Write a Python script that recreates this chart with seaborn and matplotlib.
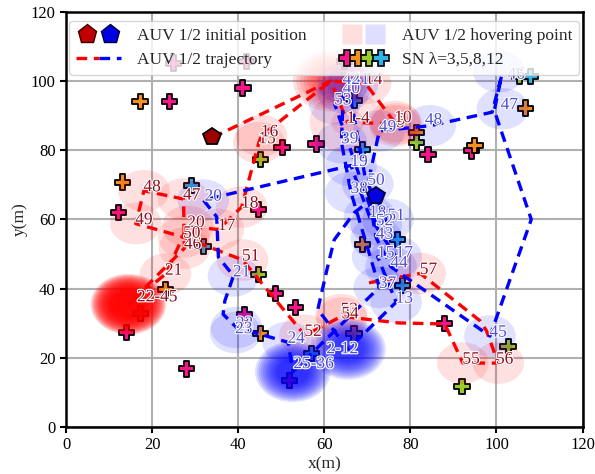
import matplotlib
matplotlib.use("Agg")
import matplotlib.pyplot as plt
import matplotlib.patheffects as pe
from matplotlib.patches import Circle
from matplotlib.lines import Line2D
from matplotlib.legend_handler import HandlerTuple
import pandas as pd
import seaborn as sns

# sensor nodes (m), one list pair per priority level lambda
sn3_x = [24.9, 41.9, 41.1, 24.0, 12.1, 14.0, 28.0, 44.8, 50.2, 58.1, 84.1, 94.2, 48.7, 53.3, 88.0, 52.0, 41.5]
sn3_y = [105.2, 105.7, 98.0, 94.1, 61.9, 27.4, 16.8, 62.9, 80.8, 81.8, 78.8, 79.8, 38.5, 34.6, 30.0, 13.5, 32.4]
sn5_x = [17.2, 81.5, 95.0, 106.8, 13.1, 23.1, 17.3, 68.9, 66.9, 45.1]
sn5_y = [94.0, 85.2, 81.3, 92.2, 70.8, 39.8, 32.8, 52.8, 27.0, 27.0]
sn8_x = [45.1, 81.5, 44.8, 102.7, 92.0, 105.4]
sn8_y = [77.4, 82.2, 44.2, 23.3, 11.7, 101.3]
sn12_x = [64.7, 67.1, 68.9, 108.0, 29.1, 32.0, 77.1, 78.1, 57.1]
sn12_y = [105.7, 94.4, 80.3, 101.3, 69.9, 52.2, 54.1, 41.0, 21.2]

# initial positions
auv1_start = (34.0, 83.7)
auv2_start = (72.0, 66.8)

# AUV 1 hovering points: centre, number of stops, label and where the label sits
auv1_hx = [61.5, 65.4, 76.5, 76.8, 76.4, 69.6, 44.8, 45.4, 35.4, 40.8, 28.3, 23.1, 14.5,
           27.5, 27.3, 18.1, 16.2, 27.3, 41.0, 55.5, 63.9, 64.1, 92.2, 100.4, 82.3]
auv1_hy = [100.0, 88.1, 87.0, 87.6, 88.3, 99.3, 82.2, 84.2, 57.1, 63.6, 58.0, 44.2, 35.5,
           51.7, 65.9, 68.3, 58.8, 54.9, 48.3, 26.5, 32.5, 31.5, 18.5, 18.5, 44.4]
auv1_hn = [7, 2, 1, 1, 1, 1, 1, 1, 1, 1, 1, 1, 24, 1, 1, 1, 1, 1, 1, 1, 1, 1, 1, 1, 1]
auv1_lab = ["", "1-4", "8", "9", "10", "14", "15", "16", "17", "18", "20", "21", "22-45",
            "46", "47", "48", "49", "50", "51", "52", "53", "54", "55", "56", "57"]
auv1_lx = [61.5, 67.9, 77.6, 77.9, 78.3, 71.5, 46.7, 47.3, 37.3, 42.7, 30.2, 25.0, 21.2,
           29.4, 29.2, 20.0, 18.1, 29.2, 42.9, 57.4, 65.8, 66.0, 94.1, 101.9, 84.2]
auv1_ly = [100.0, 89.1, 87.8, 88.6, 89.3, 100.3, 83.2, 85.2, 58.1, 64.6, 59.0, 45.2, 37.5,
           52.7, 66.9, 69.3, 59.8, 55.9, 49.3, 27.5, 33.8, 32.6, 19.5, 19.5, 45.4]

# AUV 2 hovering points
auv2_hx = [65.5, 76.7, 72.4, 76.7, 70.5, 66.2, 31.9, 38.9, 39.6, 39.4, 51.6, 52.7, 72.8, 66.2,
           64.0, 64.4, 66.6, 64.4, 72.1, 75.5, 98.5, 100.6, 101.4, 84.6, 72.8, 70.1, 74.8, 72.1, 62.4]
auv2_hy = [22.5, 36.1, 49.2, 49.2, 60.9, 75.6, 65.6, 43.7, 28.8, 27.3, 24.5, 16.0, 40.4, 67.8,
           82.2, 96.7, 99.3, 99.3, 54.6, 46.3, 26.3, 102.7, 92.0, 87.1, 85.6, 70.2, 60.0, 58.5, 93.4]
auv2_hn = [11, 1, 1, 1, 1, 1, 1, 1, 1, 1, 1, 12, 1, 1, 1, 1, 1, 1, 1, 1, 1, 1, 1, 1, 1, 1, 1, 1, 1]
auv2_lab = ["2-12", "13", "15", "17", "18", "19", "20", "21", "22", "23", "24", "25-36", "37", "38",
            "39", "40", "41", "42", "43", "44", "45", "46", "47", "48", "49", "50", "51", "52", "53"]
auv2_lx = [64.2, 78.6, 74.3, 78.6, 72.4, 68.1, 34.2, 40.8, 41.5, 41.3, 53.5, 57.5, 74.7, 68.1,
           65.9, 66.3, 68.5, 66.3, 74.0, 77.4, 100.4, 104.6, 103.0, 85.4, 74.7, 72.0, 76.7, 74.0, 64.3]
auv2_ly = [22.5, 37.1, 50.2, 50.2, 61.9, 76.6, 66.6, 44.7, 29.8, 28.3, 25.5, 18.2, 41.4, 68.8,
           83.2, 97.7, 100.3, 100.3, 55.6, 47.3, 27.3, 101.8, 93.0, 88.6, 86.6, 71.2, 61.0, 59.5, 94.4]

# trajectories (waypoints in visiting order)
auv1_tx = [34.0, 61.5, 65.4, 76.6, 69.6, 61.5, 45.4, 44.8, 40.8, 35.4, 28.3, 23.1, 14.5, 27.5,
           27.3, 18.1, 16.2, 27.3, 41.0, 55.5, 64.0, 77.2, 88.0, 92.2, 100.4, 97.7, 96.2, 82.3, 70.4]
auv1_ty = [83.7, 100.0, 88.1, 87.6, 99.3, 100.0, 84.2, 82.2, 63.6, 57.1, 58.0, 44.2, 35.5, 51.7,
           65.9, 68.3, 58.8, 54.9, 48.3, 26.5, 32.0, 30.1, 29.8, 18.5, 18.5, 27.8, 30.7, 44.4, 41.7]
auv2_tx = [72.0, 67.0, 62.3, 60.6, 58.5, 65.5, 76.7, 72.4, 76.7, 70.5, 66.2, 31.9, 35.0, 35.4,
           38.9, 36.9, 36.5, 39.6, 51.6, 52.7, 72.8, 66.2, 64.0, 64.4, 65.5, 72.1, 75.5, 98.5,
           108.1, 99.5, 101.2, 99.0, 84.6, 72.8, 70.1, 74.8, 72.1, 62.4]
auv2_ty = [66.8, 62.0, 54.1, 45.4, 34.0, 22.5, 36.1, 49.2, 49.2, 60.9, 75.6, 65.6, 60.8, 49.1,
           43.7, 36.5, 32.6, 28.8, 24.5, 16.0, 40.4, 67.8, 82.2, 96.7, 99.3, 54.6, 46.3, 26.3,
           60.0, 91.5, 101.5, 91.0, 87.1, 85.6, 70.2, 60.0, 58.5, 93.4]

sn_colors = {"3": "#f7148c", "5": "#f7901e", "8": "#9ccc2a", "12": "#2bb5e8"}

sns.set_style("ticks")
plt.rcParams['font.family'] = ['Liberation Serif', 'DejaVu Serif']
plt.rcParams['font.size'] = 12.5

fig = plt.figure(figsize=(5.95, 4.74), dpi=100)
ax = fig.add_axes([0.111, 0.099, 0.868, 0.876])

# sensor nodes
sn = pd.concat([
    pd.DataFrame({"x": sn3_x, "y": sn3_y, "lam": "3"}),
    pd.DataFrame({"x": sn5_x, "y": sn5_y, "lam": "5"}),
    pd.DataFrame({"x": sn8_x, "y": sn8_y, "lam": "8"}),
    pd.DataFrame({"x": sn12_x, "y": sn12_y, "lam": "12"}),
])
sns.scatterplot(data=sn, x="x", y="y", hue="lam", palette=sn_colors, marker="P",
                s=120, edgecolor="black", linewidth=1.3, legend=False, zorder=3, ax=ax)

# hovering zones, several stops at one point stack up
def draw_hover(xs, ys, ns, color):
    for x, y, n in zip(xs, ys, ns):
        for k in range(n):
            r = 6.0 if n == 1 else 8.8 - 5.0 * k / (n - 1)
            ax.add_patch(Circle((x, y), r, facecolor=color, edgecolor="none",
                                alpha=0.12, zorder=4))

draw_hover(auv1_hx, auv1_hy, auv1_hn, "red")
draw_hover(auv2_hx, auv2_hy, auv2_hn, "blue")

# trajectories
for tx, ty, c in [(auv1_tx, auv1_ty, "red"), (auv2_tx, auv2_ty, "blue")]:
    sns.lineplot(x=tx, y=ty, sort=False, estimator=None, color=c, lw=2.4, zorder=5, ax=ax)
    ax.lines[-1].set_dashes((3.2, 2.0))

# hover labels
halo = [pe.withStroke(linewidth=1.6, foreground="white")]
for lab, lx, ly in zip(auv1_lab, auv1_lx, auv1_ly):
    ax.text(lx, ly, lab, color="#8b1020", ha="center", va="center", fontsize=12.5,
            path_effects=halo, zorder=6)
for lab, lx, ly in zip(auv2_lab, auv2_lx, auv2_ly):
    ax.text(lx, ly, lab, color="#4f4fcf", ha="center", va="center", fontsize=12.5,
            path_effects=halo, zorder=6)

# initial positions
ax.plot(*auv1_start, marker="p", ms=13, mfc="#a00000", mec="black", mew=1.3, ls="", zorder=7)
ax.plot(*auv2_start, marker="p", ms=13, mfc="#0000e0", mec="#000040", mew=1.3, ls="", zorder=7)

ax.set_xlim(0, 120)
ax.set_ylim(0, 120)
ax.set_xticks(range(0, 121, 20))
ax.set_yticks(range(0, 121, 20))
ax.grid(True, color="#b0b0b0", lw=1.5)
ax.set_axisbelow(True)
for s in ax.spines.values():
    s.set_linewidth(1.8)
    s.set_color("black")
ax.tick_params(direction="out", length=4, width=1.5, labelsize=12, colors="black")
ax.set_xlabel("x(m)", fontsize=12.5, labelpad=2)
ax.set_ylabel("y(m)", fontsize=12.5, labelpad=2)

# legend
h_init = (Line2D([], [], marker="p", ms=14, mfc="#c00000", mec="#400000", ls=""),
          Line2D([], [], marker="p", ms=14, mfc="#0000e0", mec="#000040", ls=""))
h_traj = (Line2D([], [], color="red", lw=2.4, dashes=(3.2, 2.0)),
          Line2D([], [], color="blue", lw=2.4, dashes=(3.2, 2.0)))
h_hov = (Line2D([], [], marker="s", ms=14, mfc="#ffdede", mec="none", ls=""),
         Line2D([], [], marker="s", ms=14, mfc="#dedeff", mec="none", ls=""))
h_sn = tuple(Line2D([], [], marker="P", ms=11, mfc=c, mec="black", mew=1.2, ls="")
             for c in sn_colors.values())
ax.legend([h_init, h_traj, h_hov, h_sn],
          ["AUV 1/2 initial position", "AUV 1/2 trajectory",
           "AUV 1/2 hovering point", "SN \u03bb=3,5,8,12"],
          handler_map={tuple: HandlerTuple(ndivide=None, pad=0.0)},
          ncol=2, loc="upper center", handlelength=2.6, columnspacing=2.0,
          labelspacing=0.45, borderpad=0.4, handletextpad=0.9,
          framealpha=0.8, edgecolor="#cccccc", fontsize=12.5).set_zorder(10)

fig.savefig("out.png", dpi=100)
